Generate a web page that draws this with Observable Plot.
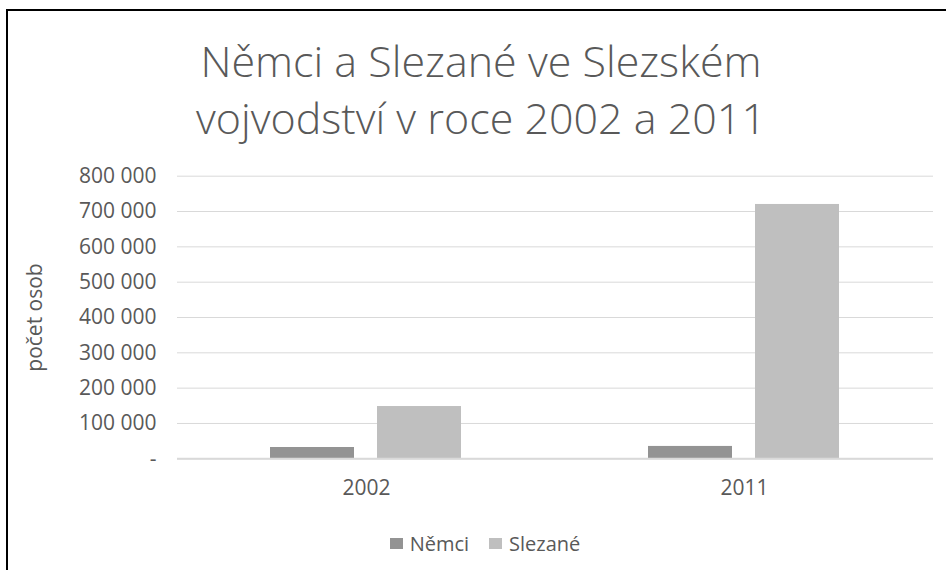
<!DOCTYPE html>
<html><head><meta charset="utf-8">
<script src="https://cdn.jsdelivr.net/npm/d3@7"></script>
<script src="https://cdn.jsdelivr.net/npm/@observablehq/plot@0.6"></script>
<style>
body{margin:0;background:#fff;}
#wrap{position:relative;width:946px;height:570px;overflow:hidden;font-family:"Open Sans",sans-serif;color:#595959;background:#fff;}
#frame{position:absolute;left:6px;top:9px;width:1000px;height:1000px;border-left:2px solid #000;border-top:2px solid #000;}
#title{position:absolute;left:8px;width:946px;top:32px;text-align:center;font-size:43px;line-height:57px;font-weight:300;color:#595959;white-space:nowrap;}
#chart{position:absolute;left:0;top:150px;}
#legend{position:absolute;left:0;width:946px;top:530px;display:flex;justify-content:center;align-items:center;font-size:20px;color:#595959;padding-left:24px;box-sizing:border-box;}
#legend .sw{display:inline-block;width:13px;height:11px;margin-right:7px;}
#legend .item{display:flex;align-items:center;margin:0 10px;}
</style></head>
<body>
<div id="wrap">
  <div id="frame"></div>
  <div id="title">Němci a Slezané ve Slezském<br>vojvodství v roce 2002 a 2011</div>
  <div id="chart"></div>
  <div id="legend"></div>
</div>
<script>
const years = ["2002", "2011"];
const groups = ["Němci", "Slezané"];
const nemci = [32000, 35000];
const slezane = [148000, 720000];
const yTicks = [0, 100000, 200000, 300000, 400000, 500000, 600000, 700000, 800000];
const colors = ["#939393", "#bfbfbf"];
const yLabel = "počet osob";

const series = [nemci, slezane];
const data = years.flatMap((y, i) => groups.map((g, j) => ({year: y, group: g, value: series[j][i]})));
const fmt = d => d === 0 ? "-" : d3.format(",")(d).replace(/,/g, " ");

const chart = Plot.plot({
  width: 946, height: 360,
  marginLeft: 176, marginRight: 13, marginTop: 25.7, marginBottom: 51.7,
  style: {fontFamily: "'Open Sans', sans-serif", color: "#595959", background: "transparent"},
  fx: {domain: years, padding: 0, label: null},
  x: {domain: groups, paddingInner: 0.213, paddingOuter: 0.859, axis: null},
  y: {domain: [0, 800000]},
  color: {domain: groups, range: colors},
  marks: [
    Plot.gridY(yTicks, {stroke: "#d9d9d9", strokeOpacity: 1, strokeWidth: 1}),
    Plot.barY(data, {fx: "year", x: "group", y: "value", fill: "group"}),
    Plot.ruleY([0], {stroke: "#d9d9d9", strokeWidth: 2}),
    Plot.axisY(yTicks, {tickSize: 0, tickPadding: 21, tickFormat: fmt, fontSize: 21,
      label: yLabel, labelAnchor: "center", labelArrow: "none", labelOffset: 150}),
    Plot.axisFx({anchor: "bottom", tickSize: 0, tickPadding: 21, fontSize: 21, label: null})
  ]
});
document.getElementById("chart").appendChild(chart);

const leg = document.getElementById("legend");
groups.forEach((g, i) => {
  const it = document.createElement("span");
  it.className = "item";
  it.innerHTML = `<span class="sw" style="background:${colors[i]}"></span>${g}`;
  leg.appendChild(it);
});
</script>
</body></html>
